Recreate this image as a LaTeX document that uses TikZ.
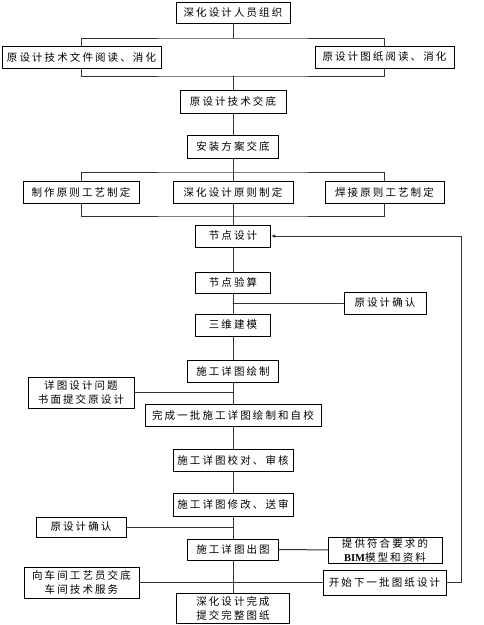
\documentclass[tikz,border=0pt]{standalone}
\usepackage{fontspec}
\usepackage{tikz}
\usetikzlibrary{arrows.meta}
\setmainfont{Noto Sans CJK SC}[LetterSpace=20]
\newfontfamily\latinfont{Liberation Serif}

\begin{document}
\begin{tikzpicture}
			[x=1pt,y=-1pt,line cap=round,
			%Styles
			box/.style={draw=black,line width=1pt,fill=white,inner sep=0pt,align=center,
				font=\fontsize{10.5}{14}\selectfont},
			link/.style={draw=linecolor,line width=1pt},
			back arrow/.style={link,-{Latex[length=4pt,width=3.5pt]}}
			]
			
			%Colors
			\colorlet{linecolor}{black!80}	%connecting lines
			
			\useasboundingbox (0,0) rectangle (484,625);
			
			%The graphic
			\node[box,minimum width=114pt,minimum height=21pt] (org) at (233, 12.5) {深化设计人员组织};
			\node[box,minimum width=159pt,minimum height=22pt] (docread) at (81.5, 57) {原设计技术文件阅读、消化};
			\node[box,minimum width=139pt,minimum height=22pt] (drawread) at (384.5, 57) {原设计图纸阅读、消化};
			\node[box,minimum width=106pt,minimum height=23pt] (techbrief) at (233, 101.5) {原设计技术交底};
			\node[box,minimum width=91pt,minimum height=23pt] (plan) at (233, 146.5) {安装方案交底};
			\node[box,minimum width=116pt,minimum height=22pt] (make) at (81, 192) {制作原则工艺制定};
			\node[box,minimum width=120pt,minimum height=22pt] (rule) at (233, 192) {深化设计原则制定};
			\node[box,minimum width=119pt,minimum height=22pt] (weld) at (384.5, 192) {焊接原则工艺制定};
			\node[box,minimum width=75pt,minimum height=22pt] (joint) at (233, 236) {节点设计};
			\node[box,minimum width=75pt,minimum height=21pt] (calc) at (233, 282.5) {节点验算};
			\node[box,minimum width=82pt,minimum height=22pt] (confirmA) at (385, 303) {原设计确认};
			\node[box,minimum width=75pt,minimum height=22pt] (model) at (233, 325) {三维建模};
			\node[box,minimum width=91pt,minimum height=22pt] (detail) at (233, 371) {施工详图绘制};
			\node[box,minimum width=106pt,minimum height=31pt] (issue) at (81, 392.5) {详图设计问题\\书面提交原设计};
			\node[box,minimum width=176pt,minimum height=22pt] (batch) at (233, 415) {完成一批施工详图绘制和自校};
			\node[box,minimum width=120pt,minimum height=22pt] (review) at (233, 460) {施工详图校对、审核};
			\node[box,minimum width=120pt,minimum height=23pt] (modify) at (233, 504.5) {施工详图修改、送审};
			\node[box,minimum width=90pt,minimum height=20pt] (confirmB) at (81, 527) {原设计确认};
			\node[box,minimum width=91pt,minimum height=21pt] (output) at (233, 549.5) {施工详图出图};
			\node[box,minimum width=114pt,minimum height=26pt] (bim) at (385, 550) {提供符合要求的\\{\latinfont\bfseries BIM}模型和资料};
			\node[box,minimum width=115pt,minimum height=31pt] (shop) at (81.5, 582.5) {向车间工艺员交底\\车间技术服务};
			\node[box,minimum width=123pt,minimum height=25pt] (next) at (384.5, 582.5) {开始下一批图纸设计};
			\node[box,minimum width=113pt,minimum height=30pt] (done) at (233, 608) {深化设计完成\\提交完整图纸};
			
			\coordinate (topA) at (233, 38);
			\coordinate (botA) at (233, 76);
			\coordinate (topB) at (233, 172);
			\coordinate (botB) at (233, 216);
			\coordinate (ret) at (461, 236);
			
			\path[link]
				(org) edge (topA)
				(botA) edge (techbrief)
				(techbrief) edge (plan)
				(plan) edge (topB)
				(topB) edge (rule)
				(rule) edge (botB)
				(botB) edge (joint)
				(joint) edge (calc)
				(calc) edge (model)
				(model) edge (detail)
				(detail) edge (batch)
				(batch) edge (review)
				(review) edge (modify)
				(modify) edge (output)
				(output) edge (done)
				(output) edge (bim)
				(shop) edge (next)
				(confirmA) edge (confirmA.west -| model)
				(issue) edge (issue.east -| batch)
				(confirmB) edge (confirmB.east -| output);
			
			\draw[link] (docread.north) |- (topA) -| (drawread.north);
			\draw[link] (docread.south) |- (botA) -| (drawread.south);
			\draw[link] (make.north) |- (topB) -| (weld.north);
			\draw[link] (make.south) |- (botB) -| (weld.south);
			\draw[back arrow] (next.east) -| (ret) -- (joint.east);
		\end{tikzpicture}
\end{document}
